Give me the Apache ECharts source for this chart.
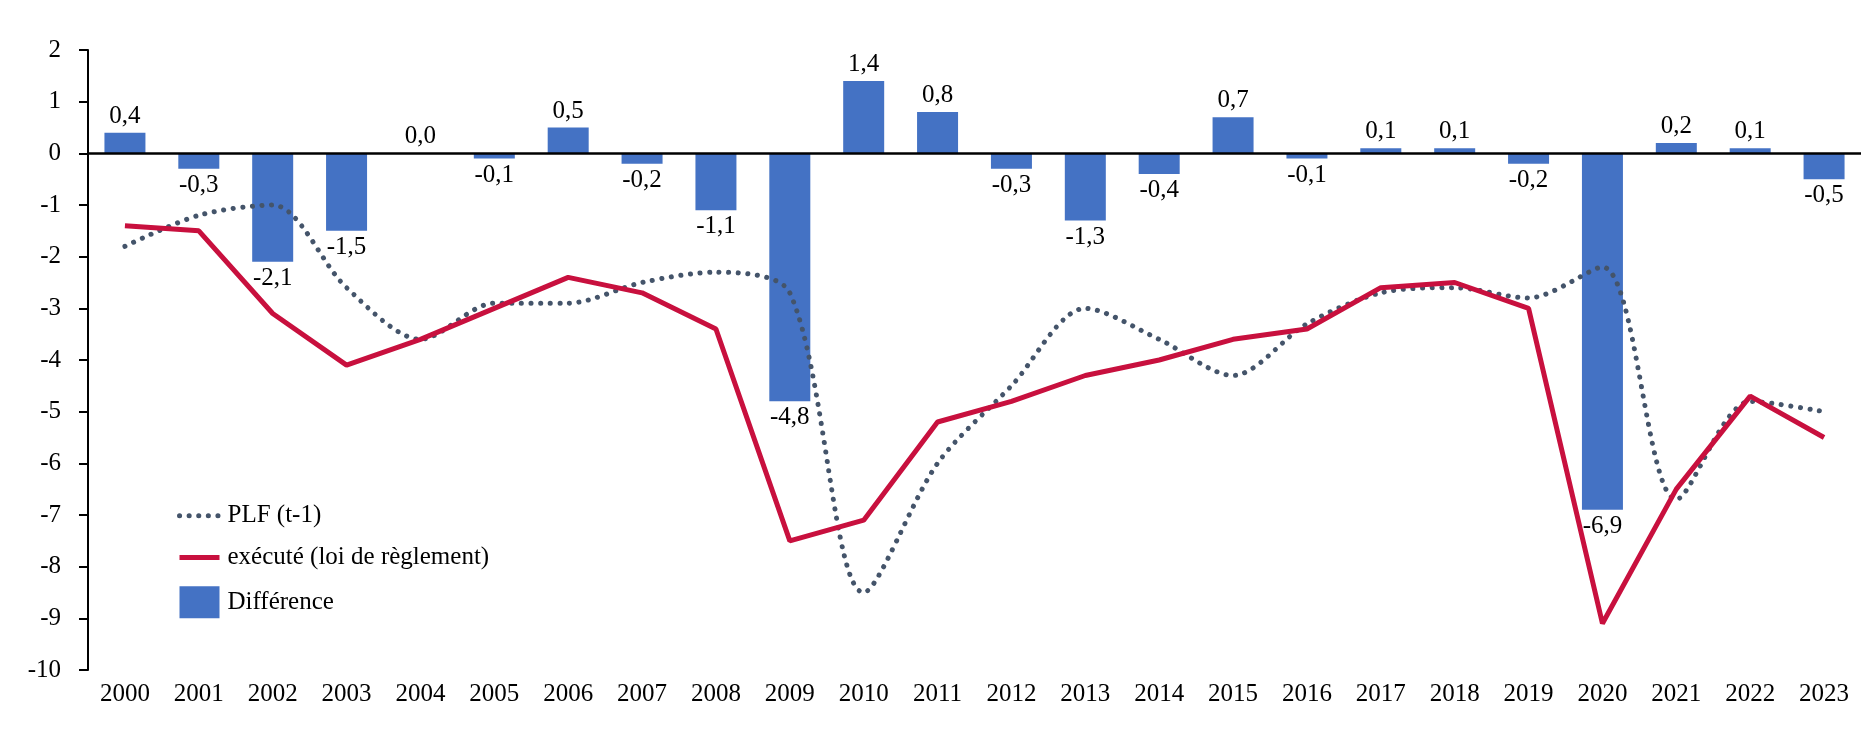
<!DOCTYPE html>
<html><head><meta charset="utf-8">
<script src="https://cdn.jsdelivr.net/npm/echarts@6/dist/echarts.min.js"></script>
<style>html,body{margin:0;padding:0;background:#fff}#c{width:1875px;height:732px}</style>
</head><body><div id="c"></div>
<script>
const years = ['2000','2001','2002','2003','2004','2005','2006','2007','2008','2009','2010','2011','2012','2013','2014','2015','2016','2017','2018','2019','2020','2021','2022','2023'];
const plf = [-1.8,-1.2,-1.0,-2.6,-3.6,-2.9,-2.9,-2.5,-2.3,-2.7,-8.5,-6.0,-4.5,-3.0,-3.6,-4.3,-3.3,-2.7,-2.6,-2.8,-2.2,-6.7,-4.8,-5.0];
const execute = [-1.4,-1.5,-3.1,-4.1,-3.6,-3.0,-2.4,-2.7,-3.4,-7.5,-7.1,-5.2,-4.8,-4.3,-4.0,-3.6,-3.4,-2.6,-2.5,-3.0,-9.1,-6.5,-4.7,-5.5];
const difference = [0.4,-0.3,-2.1,-1.5,0.0,-0.1,0.5,-0.2,-1.1,-4.8,1.4,0.8,-0.3,-1.3,-0.4,0.7,-0.1,0.1,0.1,-0.2,-6.9,0.2,0.1,-0.5];
const seriesNames = ['PLF (t-1)','exécuté (loi de règlement)','Différence'];

const FONT = 'Liberation Serif';
const FS = 25;
const fmt = v => v.toFixed(1).replace('.', ',');
const chart = echarts.init(document.getElementById('c'), null, {renderer:'canvas'});
chart.setOption({
  animation:false,
  textStyle:{fontFamily:FONT},
  grid:{left:88,right:14,top:50,bottom:62},
  legend:{
    orient:'vertical', left:177, top:503, padding:0, itemWidth:40, itemHeight:32, itemGap:16,
    textStyle:{fontFamily:FONT,fontSize:FS,color:'#000',padding:[0,0,0,3]},
    lineStyle:{width:5},
    data:[
      {name:seriesNames[0], itemStyle:{opacity:0}},
      {name:seriesNames[1], itemStyle:{opacity:0}},
      {name:seriesNames[2], icon:'rect'}
    ]
  },
  xAxis:{
    type:'category', data:years,
    axisLine:{show:false}, axisTick:{show:false},
    axisLabel:{fontFamily:FONT,fontSize:FS,color:'#000',margin:12}
  },
  yAxis:{
    type:'value', min:-10, max:2, interval:1,
    splitLine:{show:false},
    axisLine:{show:true,lineStyle:{color:'#000',width:2}},
    axisTick:{show:true,inside:false,length:9,lineStyle:{color:'#000',width:2}},
    axisLabel:{fontFamily:FONT,fontSize:FS,color:'#000',margin:27}
  },
  series:[
    {
      name:seriesNames[2], type:'bar', z:1, barWidth:41,
      itemStyle:{color:'#4472C4'},
      data:difference.map(v=>({value:v,label:{position:v<0?'bottom':'top'}})),
      label:{show:true,fontFamily:FONT,fontSize:FS,color:'#000',distance:4,formatter:p=>fmt(p.value)},
      markLine:{silent:true,symbol:['none','none'],label:{show:false},
        lineStyle:{color:'#000',width:2.5,type:'solid'},data:[{yAxis:0}]}
    },
    {
      name:seriesNames[0], type:'line', smooth:0.3, symbol:'none', z:3,
      data:plf,
      lineStyle:{color:'#44546A',width:5,type:[0.1,9.5],cap:'round'},
      itemStyle:{color:'#44546A'}
    },
    {
      name:seriesNames[1], type:'line', symbol:'none', z:4,
      data:execute,
      lineStyle:{color:'#C8103E',width:5},
      itemStyle:{color:'#C8103E'}
    }
  ]
});
</script></body></html>
